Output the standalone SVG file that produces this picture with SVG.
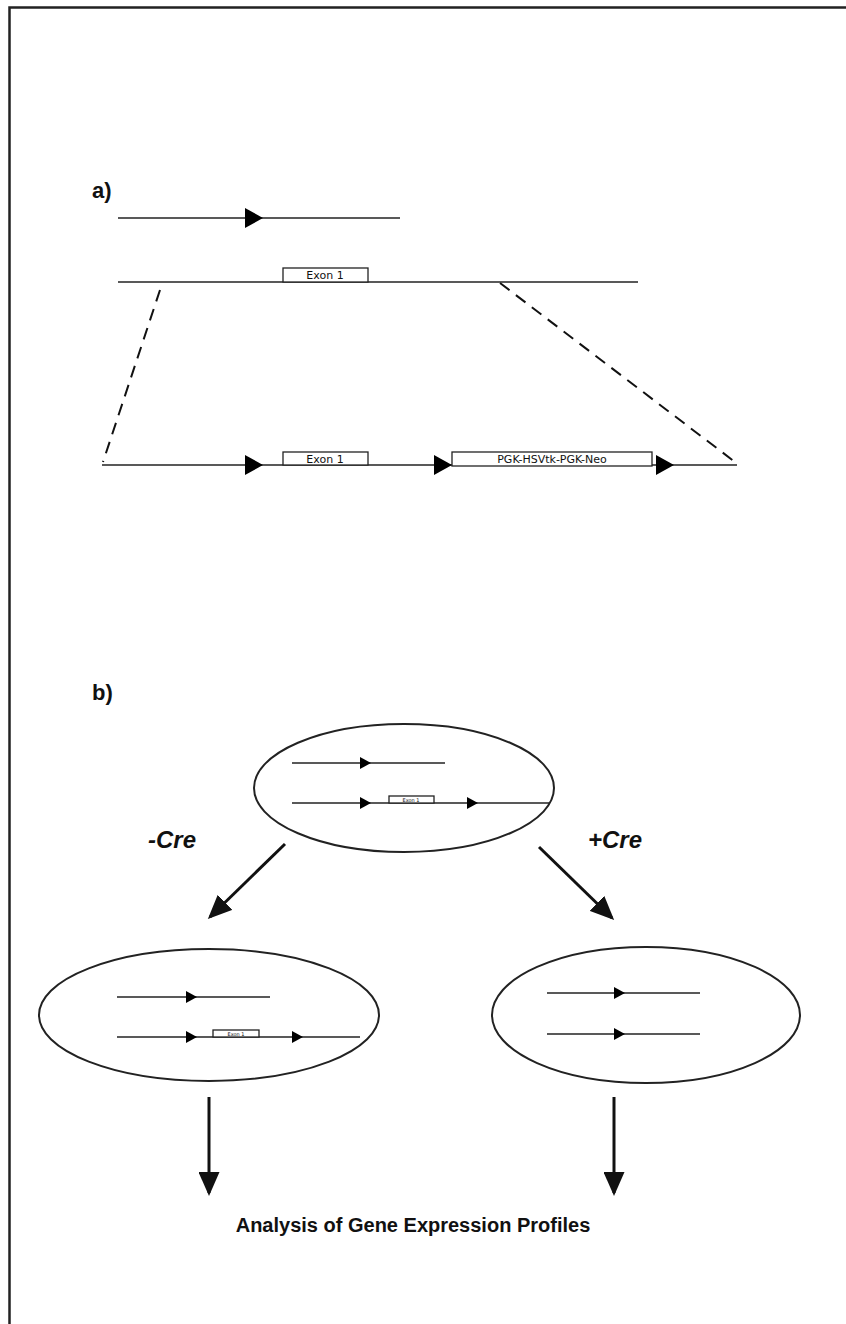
<svg xmlns="http://www.w3.org/2000/svg" width="846" height="1324" viewBox="0 0 846 1324">
<style>
.ln{stroke:#222;stroke-width:1.5;fill:none}
.box{fill:#fff;stroke:#222;stroke-width:1.3}
.tri{fill:#000}
.ell{fill:#fff;stroke:#222;stroke-width:2}
.dash{stroke:#111;stroke-width:2;stroke-dasharray:12,8;fill:none}
.arr{stroke:#111;stroke-width:3;fill:none;marker-end:url(#ah)}
.lbl{font-family:"Liberation Sans",Arial,sans-serif;font-weight:bold;fill:#111}
.ex{font-family:"DejaVu Sans",sans-serif;fill:#111;text-anchor:middle}
</style>
<defs>
<marker id="ah" markerWidth="8" markerHeight="7" refX="7" refY="3.5" orient="auto" markerUnits="strokeWidth">
<path d="M0,0 L8,3.5 L0,7 Z" fill="#111"/>
</marker>
<path id="bigT" d="M-18,-10 L0,0 L-18,10 Z" class="tri"/>
<path id="smT" d="M-11,-6 L0,0 L-11,6 Z" class="tri"/>
</defs>
<rect width="846" height="1324" fill="#fff"/>
<path d="M9.5,1324 V7.5 H846" fill="none" stroke="#222" stroke-width="2.5"/>

<text class="lbl" x="92" y="198" font-size="22">a)</text>
<text class="lbl" x="92" y="700" font-size="22">b)</text>

<g id="row1">
<line class="ln" x1="118" y1="218" x2="400" y2="218"/>
<use href="#bigT" x="263" y="218"/>
</g>
<g id="row2">
<line class="ln" x1="118" y1="282" x2="638" y2="282"/>
<rect class="box" x="283" y="268" width="85" height="14"/>
<text class="ex" x="325" y="279" font-size="11">Exon 1</text>
</g>
<g id="row3">
<line class="ln" x1="102" y1="465" x2="737" y2="465"/>
<use href="#bigT" x="263" y="465"/>
<rect class="box" x="283" y="452" width="85" height="13"/>
<text class="ex" x="325" y="463" font-size="11">Exon 1</text>
<use href="#bigT" x="452" y="465"/>
<rect class="box" x="452" y="452" width="200" height="14"/>
<text class="ex" x="552" y="463" font-size="11">PGK-HSVtk-PGK-Neo</text>
<use href="#bigT" x="674" y="465"/>
</g>

<g id="cell-top">
<ellipse class="ell" cx="404" cy="788" rx="150" ry="64"/>
<line class="ln" x1="292" y1="763" x2="445" y2="763"/>
<use href="#smT" x="371" y="763"/>
<line class="ln" x1="292" y1="803" x2="549" y2="803"/>
<use href="#smT" x="371" y="803"/>
<rect class="box" x="389" y="796" width="45" height="7"/>
<text class="ex" x="411" y="802" font-size="5">Exon 1</text>
<use href="#smT" x="478" y="803"/>
</g>

<g id="cell-minus">
<ellipse class="ell" cx="209" cy="1015" rx="170" ry="66"/>
<line class="ln" x1="117" y1="997" x2="270" y2="997"/>
<use href="#smT" x="197" y="997"/>
<line class="ln" x1="117" y1="1037" x2="360" y2="1037"/>
<use href="#smT" x="197" y="1037"/>
<rect class="box" x="213" y="1030" width="46" height="7"/>
<text class="ex" x="236" y="1036" font-size="5">Exon 1</text>
<use href="#smT" x="303" y="1037"/>
</g>

<g id="cell-plus">
<ellipse class="ell" cx="646" cy="1015" rx="154" ry="68"/>
<line class="ln" x1="547" y1="993" x2="700" y2="993"/>
<use href="#smT" x="625" y="993"/>
<line class="ln" x1="547" y1="1034" x2="700" y2="1034"/>
<use href="#smT" x="625" y="1034"/>
</g>

<g id="connectors">
<line class="dash" x1="160" y1="290" x2="103" y2="462"/>
<line class="dash" x1="500" y1="283" x2="735" y2="462"/>
<line class="arr" x1="285" y1="844" x2="210" y2="917"/>
<line class="arr" x1="539" y1="847" x2="612" y2="918"/>
<line class="arr" x1="209" y1="1097" x2="209" y2="1193"/>
<line class="arr" x1="614" y1="1097" x2="614" y2="1193"/>
</g>

<text class="lbl" x="148" y="848" font-size="24" font-style="italic">-Cre</text>
<text class="lbl" x="588" y="848" font-size="24" font-style="italic">+Cre</text>
<text class="lbl" x="413" y="1232" font-size="20" text-anchor="middle">Analysis of Gene Expression Profiles</text>
</svg>
